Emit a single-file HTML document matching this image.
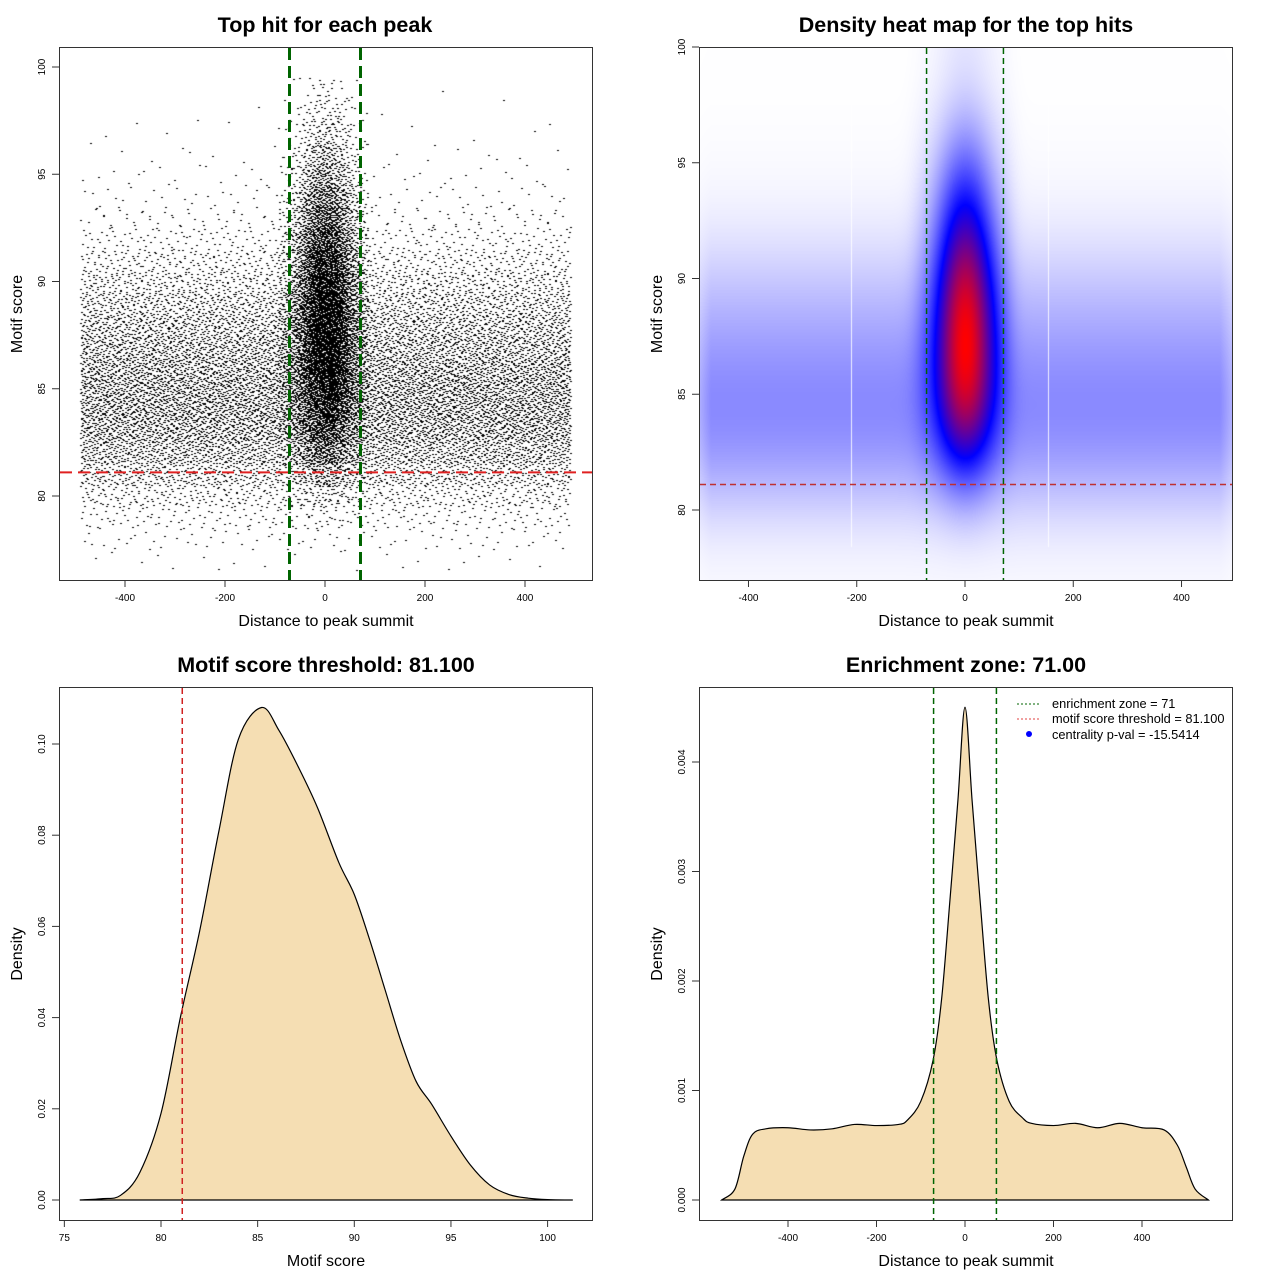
<!DOCTYPE html>
<html><head><meta charset="utf-8">
<style>
html,body{margin:0;padding:0;background:#fff;}
#wrap{position:relative;width:1280px;height:1280px;overflow:hidden;font-family:"Liberation Sans",sans-serif;}
canvas,svg{position:absolute;left:0;top:0;}
</style></head>
<body>
<div id="wrap">
<canvas id="scatter" width="533" height="533" style="left:59px;top:47px"></canvas>
<canvas id="heat" width="533" height="533" style="left:699px;top:47px"></canvas>
<svg id="ov" width="1280" height="1280" xmlns="http://www.w3.org/2000/svg"></svg>
</div>
<script>
// ---------- data ----------
const scoreBins = [77,78,79,80,81,82,83,84,85,86,87,88,89,90,91,92,93,94,95,96,97,98,99];
const bgScoreWeights = [1,4,10,22,40,60,75,82,82,75,65,54,43,31,20,11,6,3,2,1,0.5,0.2,0.1];
const centerScoreWeights = [0,0,1,3,8,18,30,42,52,58,62,62,60,55,48,40,32,24,17,11,7,4,2];
const centerXBins = [-90,-80,-70,-60,-50,-40,-30,-20,-10,0,10,20,30,40,50,60,70,80];
const centerXWeights = [3,5,8,12,18,26,34,42,48,50,48,42,34,26,18,12,8,5];
const bgCount = 13500;
const centerCount = 7500;
const bgXRange = [-490,490];

const thresholdScore = 81.1;
const enrichZone = 71;

const scoreDensX = [75.8,77,77.9,78.9,80,81,82,83,84,85.2,86.1,87.1,88.1,89.2,90,90.8,91.6,92.4,93.2,94,95,96,97,98,99,100,101.3];
const scoreDensY = [0,0.0003,0.001,0.006,0.019,0.04,0.059,0.081,0.101,0.108,0.103,0.095,0.086,0.074,0.067,0.057,0.046,0.035,0.026,0.021,0.014,0.0077,0.0033,0.0012,0.0004,0.0001,0];

const distDensX = [-550,-520,-500,-480,-450,-400,-350,-300,-250,-200,-150,-130,-100,-72,-53,-34,-16,0,16,34,53,72,100,130,150,200,250,300,350,400,450,480,500,520,550];
const distDensY = [0,0.0001,0.0004,0.0006,0.00065,0.00066,0.00064,0.00065,0.00069,0.00068,0.00069,0.00073,0.0009,0.00128,0.00183,0.00274,0.00365,0.0045,0.00365,0.00274,0.00183,0.00128,0.0009,0.00075,0.0007,0.00068,0.0007,0.00066,0.0007,0.00066,0.00064,0.0005,0.0003,0.0001,0];

const p1XTicks = [-400,-200,0,200,400];
const p1YTicks = [80,85,90,95,100];
const p3XTicks = [75,80,85,90,95,100];
const p3YTicks = [0,0.02,0.04,0.06,0.08,0.10];
const p3YLabels = ["0.00","0.02","0.04","0.06","0.08","0.10"];
const p4XTicks = [-400,-200,0,200,400];
const p4YTicks = [0,0.001,0.002,0.003,0.004];
const p4YLabels = ["0.000","0.001","0.002","0.003","0.004"];
const heatColors = [[255,255,255],[0,0,255],[255,0,0]];

// ---------- scales ----------
const sx = v => 325 + v*0.5, sy = s => 496 - (s-80)*21.45;
const hx = v => 965 + v*0.5413, hy = s => 510 - (s-80)*23.15;
const dx = v => 161 + (v-80)*19.33, dy = d => 1200 - d*4560;
const ex = v => 965 + v*0.4425, ey = d => 1200 - d*109500;

const NS = "http://www.w3.org/2000/svg";
const ov = document.getElementById('ov');
function mk(tag, attrs, parent){const e=document.createElementNS(NS,tag);for(const k in attrs)e.setAttribute(k,attrs[k]);(parent||ov).appendChild(e);return e;}
function txt(x,y,s,size,opts){const e=mk('text',{x:x,y:y,'font-size':size,'text-anchor':(opts&&opts.anchor)||'middle','font-family':'Liberation Sans, sans-serif',fill:'#000'});if(opts&&opts.bold)e.setAttribute('font-weight','bold');if(opts&&opts.rot)e.setAttribute('transform','rotate(-90 '+x+' '+y+')');e.textContent=s;return e;}

function halton(i,b){let f=1,r=0;while(i>0){f/=b;r+=f*(i%b);i=Math.floor(i/b);}return r;}
const sum = a => a.reduce((p,c)=>p+c,0);

// ---------- scatter ----------
(function(){
  const c=document.getElementById('scatter').getContext('2d');
  c.fillStyle='#000';
  let idx=1;
  const bs=sum(bgScoreWeights);
  scoreBins.forEach((s,i)=>{
    const n=Math.round(bgCount*bgScoreWeights[i]/bs);
    for(let k=0;k<n;k++){idx++;
      const xv=bgXRange[0]+halton(idx,2)*(bgXRange[1]-bgXRange[0]);
      const sv=s-0.5+halton(idx,3);
      c.fillRect(Math.round(sx(xv)-59),Math.round(sy(sv)-47),2,1);}
  });
  const cs=sum(centerScoreWeights), cx=sum(centerXWeights);
  centerXBins.forEach((xb,j)=>{
    scoreBins.forEach((s,i)=>{
      const n=Math.round(centerCount*centerXWeights[j]/cx*centerScoreWeights[i]/cs);
      for(let k=0;k<n;k++){idx++;
        const xv=xb-5+halton(idx,2)*10;
        const sv=s-0.5+halton(idx,3);
        c.fillRect(Math.round(sx(xv)-59),Math.round(sy(sv)-47),2,1);}
    });
  });
})();

// ---------- heatmap ----------
(function(){
  const cv=document.getElementById('heat'),c=cv.getContext('2d');
  const img=c.createImageData(533,533);
  const bs=sum(bgScoreWeights), cs=sum(centerScoreWeights), cxw=sum(centerXWeights);
  const g=(d,sd)=>Math.exp(-d*d/(2*sd*sd));
  function smoothS(w,s,sd){let r=0,n=0;scoreBins.forEach((b,i)=>{const k=g(s-b,sd);r+=w[i]*k;n+=k;});return r/Math.max(n,1e-9);}
  function bgX(x){const a=Math.abs(x);return a<470?1:Math.max(0,1-(a-470)/60);}
  function cX(x){let r=0;centerXBins.forEach((b,i)=>{r+=centerXWeights[i]*g(x-b,16)/(16*2.5066);});return r*10/cxw;}
  const colS=[],colX=[];
  for(let py=0;py<533;py++){const s=80+(510-(py+47))/23.15;colS.push([smoothS(bgScoreWeights,s,1.2)/bs,smoothS(centerScoreWeights,s,1.0)/cs]);}
  for(let px=0;px<533;px++){const x=(px+699-965)/0.5413;colX.push([bgX(x),cX(x)]);}
  let mx=0;const D=new Float32Array(533*533);
  for(let py=0;py<533;py++)for(let px=0;px<533;px++){
    const d=bgCount*colS[py][0]*colX[px][0]/980 + centerCount*colX[px][1]/10*colS[py][1];
    D[py*533+px]=d;if(d>mx)mx=d;}
  for(let i=0;i<D.length;i++){
    let t=Math.pow(D[i]/mx,0.86)*2;let a,b;
    if(t<1){a=heatColors[0];b=heatColors[1];}else{a=heatColors[1];b=heatColors[2];t-=1;}
    img.data[i*4]=a[0]+(b[0]-a[0])*t;img.data[i*4+1]=a[1]+(b[1]-a[1])*t;img.data[i*4+2]=a[2]+(b[2]-a[2])*t;img.data[i*4+3]=255;}
  c.putImageData(img,0,0);
  c.fillStyle='rgba(255,255,255,0.85)';
  c.fillRect(851-699,40,1,460);c.fillRect(1048-699,40,1,460);
})();

// ---------- axes helpers ----------
function box(x,y,name){mk('rect',{x:x+0.5,y:y+0.5,width:533,height:533,fill:'none',stroke:'#333','stroke-width':1,});}
function xAxis(ticks,labels,f,yb,name){const g=mk('g',{});
  ticks.forEach((t,i)=>{const x=f(t);mk('line',{x1:x,x2:x,y1:yb,y2:yb+7,stroke:'#333'},g);const e=txt(x,yb+21,labels[i],10);g.appendChild(e);});}
function yAxis(ticks,labels,f,xb,name){const g=mk('g',{});
  ticks.forEach((t,i)=>{const y=f(t);mk('line',{x1:xb-7,x2:xb,y1:y,y2:y,stroke:'#333'},g);const e=txt(xb-14,y,labels[i],10,{rot:true});g.appendChild(e);});}
function smoothPath(xs,ys,fx,fy){let d='M'+fx(xs[0])+','+fy(ys[0]);
  const P=xs.map((x,i)=>[fx(x),fy(ys[i])]);
  for(let i=0;i<P.length-1;i++){const p0=P[Math.max(i-1,0)],p1=P[i],p2=P[i+1],p3=P[Math.min(i+2,P.length-1)];
    d+=' C'+(p1[0]+(p2[0]-p0[0])/6)+','+(p1[1]+(p2[1]-p0[1])/6)+' '+(p2[0]-(p3[0]-p1[0])/6)+','+(p2[1]-(p3[1]-p1[1])/6)+' '+p2[0]+','+p2[1];}
  return d;}

// ---------- panel 1 ----------
let t;
t=txt(325,32,'Top hit for each peak',21.5,{bold:true});
box(59,47,'scatter-frame');
xAxis(p1XTicks,p1XTicks.map(String),sx,580,'scatter-x-axis');
yAxis(p1YTicks,p1YTicks.map(String),sy,59,'scatter-y-axis');
t=txt(326,626,'Distance to peak summit',16);
t=txt(22,314,'Motif score',16,{rot:true});
mk('line',{x1:60,x2:592,y1:sy(thresholdScore),y2:sy(thresholdScore),stroke:'#e02020','stroke-width':2,'stroke-dasharray':'12,6',});
[-enrichZone,enrichZone].forEach(v=>mk('line',{x1:sx(v),x2:sx(v),y1:48,y2:580,stroke:'#006400','stroke-width':3,'stroke-dasharray':'12,6',}));

// ---------- panel 2 ----------
t=txt(966,32,'Density heat map for the top hits',21.5,{bold:true});
box(699,47,'heatmap-frame');
xAxis([-400,-200,0,200,400],['-400','-200','0','200','400'],hx,580,'heatmap-x-axis');
yAxis([80,85,90,95,100],['80','85','90','95','100'],hy,699,'heatmap-y-axis');
t=txt(966,626,'Distance to peak summit',16);
t=txt(662,314,'Motif score',16,{rot:true});
mk('line',{x1:700,x2:1232,y1:hy(thresholdScore),y2:hy(thresholdScore),stroke:'#c03030','stroke-width':1.5,'stroke-dasharray':'6,4',});
[-enrichZone,enrichZone].forEach(v=>mk('line',{x1:hx(v),x2:hx(v),y1:48,y2:580,stroke:'#006400','stroke-width':1.5,'stroke-dasharray':'6,4',}));

// ---------- panel 3 ----------
t=txt(326,672,'Motif score threshold: 81.100',21.5,{bold:true});
mk('path',{d:smoothPath(scoreDensX,scoreDensY,dx,dy)+' Z',fill:'#f5deb3',stroke:'#000','stroke-width':1.2,});
mk('line',{x1:dx(scoreDensX[0]),x2:dx(scoreDensX[scoreDensX.length-1]),y1:1200,y2:1200,stroke:'#000',});
mk('line',{x1:dx(thresholdScore),x2:dx(thresholdScore),y1:688,y2:1220,stroke:'#d02020','stroke-width':1.5,'stroke-dasharray':'6,4',});
box(59,687,'score-density-frame');
xAxis(p3XTicks,p3XTicks.map(String),dx,1220,'score-density-x-axis');
yAxis(p3YTicks,p3YLabels,dy,59,'score-density-y-axis');
t=txt(326,1266,'Motif score',16);
t=txt(22,954,'Density',16,{rot:true});

// ---------- panel 4 ----------
t=txt(966,672,'Enrichment zone: 71.00',21.5,{bold:true});
mk('path',{d:smoothPath(distDensX,distDensY,ex,ey)+' Z',fill:'#f5deb3',stroke:'#000','stroke-width':1.2,});
mk('line',{x1:ex(distDensX[0]),x2:ex(distDensX[distDensX.length-1]),y1:1200,y2:1200,stroke:'#000',});
[-enrichZone,enrichZone].forEach(v=>mk('line',{x1:ex(v),x2:ex(v),y1:688,y2:1220,stroke:'#006400','stroke-width':1.5,'stroke-dasharray':'6,4',}));
box(699,687,'distance-density-frame');
xAxis(p4XTicks,p4XTicks.map(String),ex,1220,'distance-density-x-axis');
yAxis(p4YTicks,p4YLabels,ey,699,'distance-density-y-axis');
t=txt(966,1266,'Distance to peak summit',16);
t=txt(662,954,'Density',16,{rot:true});

// legend
const lg=mk('g',{});
const l1=mk('g',{},lg);
mk('line',{x1:1017,x2:1041,y1:704,y2:704,stroke:'#006400','stroke-dasharray':'2,2'},l1);
l1.appendChild(txt(1052,708,'enrichment zone = 71',12.8,{anchor:'start'}));
const l2=mk('g',{},lg);
mk('line',{x1:1017,x2:1041,y1:719,y2:719,stroke:'#e04040','stroke-dasharray':'2,2'},l2);
l2.appendChild(txt(1052,723,'motif score threshold = 81.100',12.8,{anchor:'start'}));
const l3=mk('g',{},lg);
mk('circle',{cx:1029,cy:734,r:3,fill:'#0000ff'},l3);
l3.appendChild(txt(1052,739,'centrality p-val = -15.5414',12.8,{anchor:'start'}));
</script>
</body></html>
